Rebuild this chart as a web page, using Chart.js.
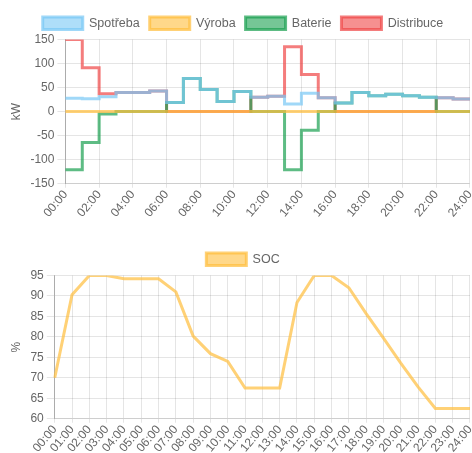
<!DOCTYPE html>
<html>
<head>
<meta charset="utf-8">
<script src="https://cdn.jsdelivr.net/npm/chart.js@4"></script>
<style>
  body { margin: 0; background: #fff; overflow: hidden; }
  .box { position: absolute; left: 5px; width: 476px; }
  #top { top: 7px; height: 213px; }
  #bottom { top: 243px; height: 212px; }
</style>
</head>
<body>
<div class="box" id="top"><canvas id="energyChart"></canvas></div>
<div class="box" id="bottom"><canvas id="socChart"></canvas></div>
<script>
const hours = ['00:00','01:00','02:00','03:00','04:00','05:00','06:00','07:00','08:00','09:00','10:00','11:00','12:00',
  '13:00','14:00','15:00','16:00','17:00','18:00','19:00','20:00','21:00','22:00','23:00','24:00'];

// kW per hour (value holds until next hour)
const spotreba   = [28, 27, 31, 40, 40, 43, 19, 69, 46, 21, 42, 30, 32, 16, 38, 29, 18, 40, 33, 36, 33, 30, 29, 26, 26];
const vyroba     = [0, 0, 0, 0, 0, 0, 0, 0, 0, 0, 0, 0, 0, 0, 0, 0, 0, 0, 0, 0, 0, 0, 0, 0, 0];
const baterie    = [-121, -64, -5, 0, 0, 0, 19, 69, 46, 21, 42, 0, 0, -121, -39, 0, 18, 40, 33, 36, 33, 30, 0, 0, 0];
const distribuce = [150, 91, 37, 40, 40, 43, 0, 0, 0, 0, 0, 30, 32, 135, 77, 29, 0, 0, 0, 0, 0, 0, 29, 26, 26];

// state of charge in %
const soc = [70, 90.3, 95, 95, 94.2, 94.2, 94.2, 91, 80.2, 75.9, 74, 67.5, 67.5, 67.5, 88.4, 95, 95, 92, 85.7, 79.7, 73.6, 67.8, 62.5, 62.5, 62.5];

const tickColor = '#666';

function series(label, data, rgb) {
  return {
    label,
    data,
    borderColor: `rgba(${rgb},0.7)`,
    backgroundColor: `rgba(${rgb},0.6)`,
    borderWidth: 3,
    pointRadius: 0,
    stepped: 'before',
    fill: false
  };
}

const xGrid = { tickLength: 4 };
const yBorder = { color: 'rgba(0,0,0,0.25)' };
const legendOpts = { labels: { color: tickColor, font: { size: 12.5 } } };

new Chart(document.getElementById('energyChart'), {
  type: 'line',
  data: {
    labels: hours,
    datasets: [
      series('Spotřeba', spotreba, '120,200,245'),
      series('Výroba', vyroba, '255,190,60'),
      series('Baterie', baterie, '25,160,80'),
      series('Distribuce', distribuce, '240,70,70')
    ]
  },
  options: {
    responsive: true,
    maintainAspectRatio: false,
    animation: false,
    plugins: { legend: legendOpts },
    scales: {
      x: {
        grid: xGrid,
        ticks: { color: tickColor, padding: 0, maxRotation: 50, minRotation: 50, autoSkip: true, maxTicksLimit: 13 }
      },
      y: {
        min: -150,
        max: 150,
        border: yBorder,
        ticks: { color: tickColor, stepSize: 50 },
        title: { display: true, text: 'kW', color: tickColor }
      }
    }
  }
});

new Chart(document.getElementById('socChart'), {
  type: 'line',
  data: {
    labels: hours,
    datasets: [{
      label: 'SOC',
      data: soc,
      borderColor: 'rgba(255,190,60,0.7)',
      backgroundColor: 'rgba(255,190,60,0.6)',
      borderWidth: 3,
      pointRadius: 0,
      tension: 0,
      fill: false
    }]
  },
  options: {
    responsive: true,
    maintainAspectRatio: false,
    animation: false,
    plugins: { legend: legendOpts },
    scales: {
      x: {
        grid: xGrid,
        ticks: { color: tickColor, padding: 0, maxRotation: 50, minRotation: 50, autoSkip: false }
      },
      y: {
        min: 60,
        max: 95,
        border: yBorder,
        ticks: { color: tickColor, stepSize: 5 },
        title: { display: true, text: '%', color: tickColor }
      }
    }
  }
});
</script>
</body>
</html>
